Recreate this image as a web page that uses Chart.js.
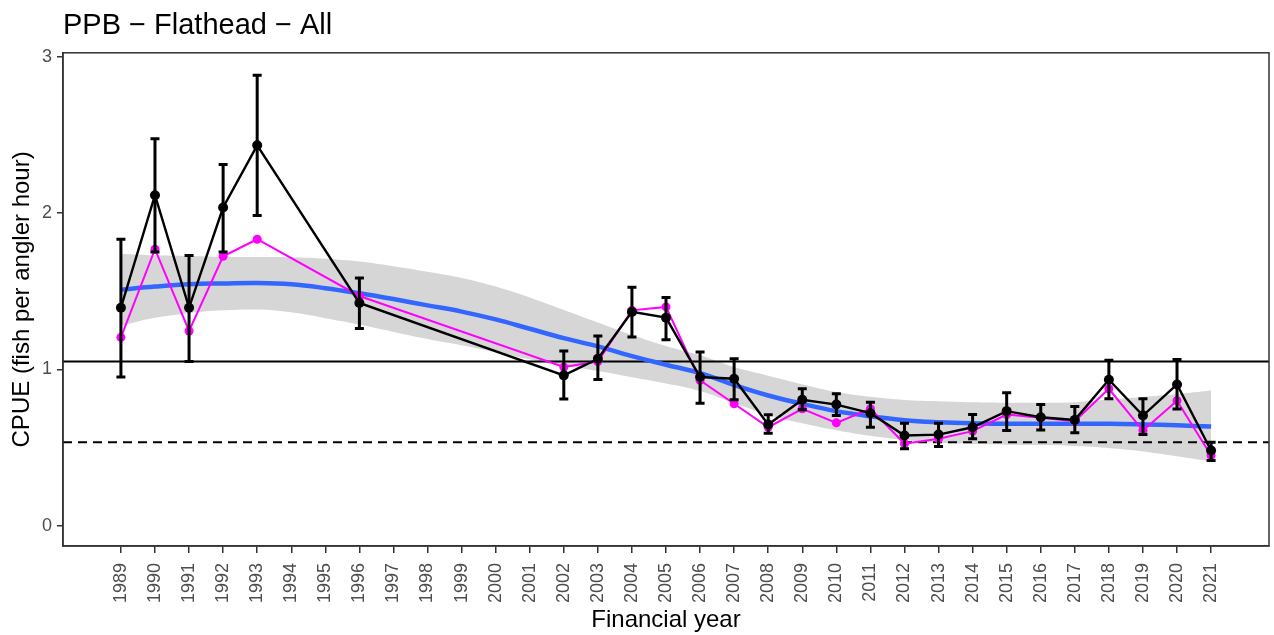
<!DOCTYPE html>
<html>
<head>
<meta charset="utf-8">
<script src="https://cdn.jsdelivr.net/npm/chart.js@4.4.0/dist/chart.umd.min.js"></script>
<style>
    body { margin: 0; background: #ffffff; }
    canvas { display: block; }
</style>
</head>
<body>
<canvas id="cpueChart" width="1274" height="635"></canvas>
<script>
// years shown on the axis
const tickYears = [1989, 1990, 1991, 1992, 1993, 1994, 1995, 1996, 1997, 1998, 1999, 2000, 2001, 2002, 2003, 2004, 2005,
    2006, 2007, 2008, 2009, 2010, 2011, 2012, 2013, 2014, 2015, 2016, 2017, 2018, 2019, 2020, 2021];
const yTicks = [0, 1, 2, 3];

// years with a survey
const surveyYears = [1989, 1990, 1991, 1992, 1993, 1996, 2002, 2003, 2004, 2005, 2006, 2007, 2008, 2009, 2010,
    2011, 2012, 2013, 2014, 2015, 2016, 2017, 2018, 2019, 2020, 2021];
const cpueMean = [1.395, 2.115, 1.395, 2.036, 2.434, 1.425, 0.962, 1.068, 1.368, 1.331, 0.951, 0.94, 0.647, 0.806,
    0.775, 0.72, 0.577, 0.583, 0.63, 0.733, 0.694, 0.677, 0.934, 0.705, 0.904, 0.481];
const cpueUpper = [1.833, 2.476, 1.729, 2.312, 2.882, 1.585, 1.118, 1.214, 1.526, 1.46, 1.111, 1.068, 0.71, 0.876,
    0.844, 0.79, 0.656, 0.656, 0.711, 0.85, 0.776, 0.763, 1.058, 0.812, 1.064, 0.534];
const cpueLower = [0.951, 1.752, 1.051, 1.752, 1.985, 1.261, 0.81, 0.936, 1.207, 1.19, 0.784, 0.806, 0.592, 0.742,
    0.705, 0.63, 0.492, 0.506, 0.556, 0.609, 0.613, 0.594, 0.812, 0.583, 0.746, 0.417];
const cpueAlt = [1.205, 1.769, 1.246, 1.724, 1.833, 1.47, 1.015, 1.05, 1.378, 1.40, 0.93, 0.78, 0.63, 0.748,
    0.658, 0.748, 0.524, 0.556, 0.605, 0.711, 0.69, 0.669, 0.876, 0.609, 0.80, 0.449];

// smoothed trend and its confidence band (one value per tick year)
const trend = [1.51, 1.53, 1.545, 1.55, 1.553, 1.545, 1.52, 1.487, 1.45, 1.41, 1.37, 1.32, 1.26, 1.20, 1.147,
    1.085, 1.03, 0.976, 0.90, 0.833, 0.78, 0.733, 0.70, 0.675, 0.662, 0.655, 0.652, 0.652, 0.652, 0.652, 0.648,
    0.642, 0.635];
const trendUpper = [1.74, 1.73, 1.725, 1.72, 1.72, 1.718, 1.708, 1.69, 1.66, 1.625, 1.585, 1.53, 1.46, 1.38, 1.30,
    1.22, 1.15, 1.09, 1.015, 0.96, 0.905, 0.855, 0.825, 0.805, 0.797, 0.79, 0.787, 0.787, 0.79, 0.807, 0.823,
    0.842, 0.865];
const trendLower = [1.28, 1.33, 1.36, 1.378, 1.383, 1.365, 1.328, 1.287, 1.24, 1.195, 1.155, 1.11, 1.065, 1.025, 0.99,
    0.95, 0.91, 0.862, 0.785, 0.708, 0.655, 0.611, 0.575, 0.548, 0.53, 0.522, 0.518, 0.516, 0.51, 0.497, 0.475,
    0.444, 0.41];

// reference lines
const refSolid = 1.05;
const refDashed = 0.534;

const toPoints = (xs, ys) => xs.map((x, i) => ({ x: x, y: ys[i] }));

const extras = {
    id: "extras",
    afterDatasetDraw(chart, args) {
        if (args.index !== 3) return;
        const { ctx, chartArea, scales } = chart;
        ctx.save();
        ctx.strokeStyle = "#000000";
        ctx.lineWidth = 2;
        let y = scales.y.getPixelForValue(refSolid);
        ctx.beginPath();
        ctx.moveTo(chartArea.left, y);
        ctx.lineTo(chartArea.right, y);
        ctx.stroke();
        y = scales.y.getPixelForValue(refDashed);
        ctx.setLineDash([9, 6]);
        ctx.beginPath();
        ctx.moveTo(chartArea.left, y);
        ctx.lineTo(chartArea.right, y);
        ctx.stroke();
        ctx.restore();
    },
    afterDatasetsDraw(chart) {
        const { ctx, scales } = chart;
        ctx.save();
        ctx.strokeStyle = "#000000";
        ctx.lineWidth = 3;
        surveyYears.forEach((yr, i) => {
            const x = scales.x.getPixelForValue(yr);
            const top = scales.y.getPixelForValue(cpueUpper[i]);
            const bot = scales.y.getPixelForValue(cpueLower[i]);
            ctx.beginPath();
            ctx.moveTo(x, top);
            ctx.lineTo(x, bot);
            ctx.moveTo(x - 4.5, top);
            ctx.lineTo(x + 4.5, top);
            ctx.moveTo(x - 4.5, bot);
            ctx.lineTo(x + 4.5, bot);
            ctx.stroke();
        });
        ctx.restore();
    },
    afterDraw(chart) {
        const { ctx, chartArea } = chart;
        ctx.save();
        ctx.strokeStyle = "#333333";
        ctx.lineWidth = 1.5;
        ctx.strokeRect(chartArea.left, chartArea.top, chartArea.right - chartArea.left, chartArea.bottom - chartArea.top);
        ctx.restore();
    },
};

const ctx = document.getElementById("cpueChart").getContext("2d");
new Chart(ctx, {
    type: "line",
    data: {
        datasets: [
            {
                label: "CPUE",
                data: toPoints(surveyYears, cpueMean),
                borderColor: "#000000",
                backgroundColor: "#000000",
                borderWidth: 2.4,
                pointRadius: 5,
                pointBorderWidth: 0,
                tension: 0,
                order: 1,
            },
            {
                label: "CPUE (alt)",
                data: toPoints(surveyYears, cpueAlt),
                borderColor: "#FF00FF",
                backgroundColor: "#FF00FF",
                borderWidth: 2,
                pointRadius: 4.5,
                pointBorderWidth: 0,
                tension: 0,
                order: 2,
            },
            {
                label: "Trend",
                data: toPoints(tickYears, trend),
                borderColor: "#3366FF",
                borderWidth: 4.5,
                pointRadius: 0,
                tension: 0.4,
                order: 3,
            },
            {
                label: "Upper",
                data: toPoints(tickYears, trendUpper),
                borderWidth: 0,
                pointRadius: 0,
                tension: 0.4,
                fill: false,
                order: 4,
            },
            {
                label: "Lower",
                data: toPoints(tickYears, trendLower),
                borderWidth: 0,
                pointRadius: 0,
                tension: 0.4,
                backgroundColor: "rgba(153, 153, 153, 0.4)",
                fill: "-1",
                order: 5,
            },
        ],
    },
    options: {
        responsive: false,
        animation: false,
        events: [],
        layout: { padding: { left: 0, right: 1, top: 0, bottom: 0 } },
        plugins: {
            legend: { display: false },
            tooltip: { enabled: false },
            title: {
                display: true,
                text: "PPB \u2212 Flathead \u2212 All",
                align: "start",
                fullSize: false,
                color: "#000000",
                font: { family: "Liberation Sans, Arial, sans-serif", size: 29, weight: "normal", lineHeight: 1.2 },
                padding: { top: 9, bottom: 9 },
            },
        },
        scales: {
            x: {
                type: "linear",
                min: 1987.3,
                max: 2022.7,
                afterBuildTicks: (scale) => {
                    scale.ticks = tickYears.map((v) => ({ value: v }));
                },
                afterFit: (scale) => {
                    scale.height = 89;
                },
                ticks: {
                    autoSkip: false,
                    minRotation: 90,
                    maxRotation: 90,
                    padding: 10,
                    color: "#4D4D4D",
                    font: { family: "Liberation Sans, Arial, sans-serif", size: 18 },
                    callback: (v) => String(v),
                },
                grid: {
                    drawOnChartArea: false,
                    drawTicks: true,
                    tickLength: 7,
                    color: "#333333",
                    lineWidth: 1.5,
                },
                border: { display: true, color: "#333333", width: 1.5 },
                title: {
                    display: true,
                    text: "Financial year",
                    color: "#000000",
                    font: { family: "Liberation Sans, Arial, sans-serif", size: 24, lineHeight: 1.2 },
                    padding: { top: 0, bottom: 0 },
                },
            },
            y: {
                min: -0.13,
                max: 3.026,
                afterBuildTicks: (scale) => {
                    scale.ticks = yTicks.map((v) => ({ value: v }));
                },
                afterFit: (scale) => {
                    scale.width = 63;
                },
                ticks: {
                    padding: 5,
                    color: "#4D4D4D",
                    font: { family: "Liberation Sans, Arial, sans-serif", size: 18 },
                    callback: (v) => String(v),
                },
                grid: {
                    drawOnChartArea: false,
                    drawTicks: true,
                    tickLength: 6,
                    color: "#333333",
                    lineWidth: 1.5,
                },
                border: { display: true, color: "#333333", width: 1.5 },
                title: {
                    display: true,
                    text: "CPUE (fish per angler hour)",
                    color: "#000000",
                    font: { family: "Liberation Sans, Arial, sans-serif", size: 24, lineHeight: 1.2 },
                    padding: { top: 8, bottom: 0 },
                },
            },
        },
    },
    plugins: [extras],
});
</script>
</body>
</html>
